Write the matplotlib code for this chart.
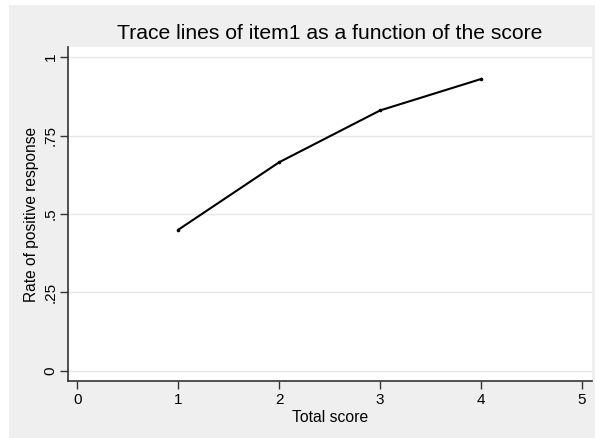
import matplotlib
matplotlib.use("Agg")
import matplotlib.pyplot as plt
from matplotlib.patches import Rectangle

scores = [1, 2, 3, 4]
rates = [0.45, 0.665, 0.83, 0.93]
xticks = [0, 1, 2, 3, 4, 5]
yticks = [0, 0.25, 0.5, 0.75, 1]
ytick_labels = ["0", ".25", ".5", ".75", "1"]
title = "Trace lines of item1 as a function of the score"
xlabel = "Total score"
ylabel = "Rate of positive response"

plt.rcParams['font.family'] = ['Liberation Sans', 'DejaVu Sans']

W, H = 595, 438
fig = plt.figure(figsize=(W / 100, H / 100), dpi=100)
fig.patch.set_facecolor("white")
bg = Rectangle((9 / W, 0), 1 - 9 / W, 1 - 5 / H, transform=fig.transFigure,
               facecolor="#efefef", edgecolor="none", zorder=-10)
fig.add_artist(bg)

ax = fig.add_axes([68 / W, 1 - 381 / H, (592 - 68) / W, (381 - 47) / H])
ax.set_zorder(1)
ax.set_facecolor("white")
ax.plot(scores, rates, color="black", lw=1.5, marker="o", ms=1.6, zorder=3)
ax.set_xlim(-0.094, 5.10)
ax.set_ylim(-0.032, 1.032)
ax.set_xticks(xticks)
ax.set_yticks(yticks)
ax.set_yticklabels(ytick_labels, rotation=90, va="center")
ax.tick_params(axis="both", labelsize=11, length=6, width=1, color="#333333", pad=3)
ax.tick_params(axis="y", pad=1.5)
for s in ["top", "right"]:
    ax.spines[s].set_visible(False)
for s in ["left", "bottom"]:
    ax.spines[s].set_color("#333333")
    ax.spines[s].set_linewidth(1.2)
ax.grid(axis="y", color="#e6e6e6", lw=1)
ax.set_axisbelow(True)
ax.set_xlabel(xlabel, fontsize=11.3, labelpad=2)
ax.set_ylabel(ylabel, fontsize=11.2, labelpad=3)
ax.set_title(title, fontsize=15.2, pad=6)

fig.savefig("out.png", dpi=100, facecolor=fig.get_facecolor())
